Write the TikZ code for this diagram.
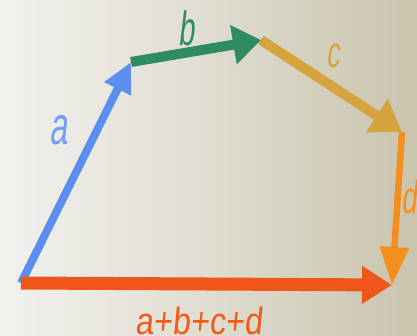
\documentclass[tikz,border=0pt]{standalone}
\usepackage{fontspec}
\newfontfamily\etichettafont[FakeStretch=0.6, FakeSlant=0.12]{Liberation Sans}
\newfontfamily\sommafont[FakeStretch=0.85, FakeSlant=0.1]{Liberation Sans}
\usetikzlibrary{arrows.meta}
\definecolor{blu}{HTML}{5B8EF0}
\definecolor{verde}{HTML}{2E8B62}
\definecolor{oro}{HTML}{D6A43E}
\definecolor{arancio}{HTML}{F48E1C}
\definecolor{rosso}{HTML}{F0561A}
\definecolor{chiaro}{HTML}{F2F1EE}
\definecolor{scuro}{HTML}{C9C4AD}

\begin{document}
\begin{tikzpicture}[
  x=1pt, y=1pt,
  punta/.style 2 args={-{Triangle[length=#1,width=#2]}},
  vettore/.style={draw=#1, line cap=butt, line join=miter},
  etichetta/.style={inner sep=0pt, font=\etichettafont\fontsize{#1}{#1}\selectfont}
]

% sfondo
\useasboundingbox (0,0) rectangle (417,335);
\clip (0,0) rectangle (417,335);
\shade[left color=chiaro, right color=scuro, middle color=chiaro!55!scuro] (0,0) rectangle (417,335);

% vertici
\coordinate (O) at (21,52);
\coordinate (A) at (131,273);
\coordinate (B) at (261,295);
\coordinate (C) at (402,203);
\coordinate (D) at (392,50);

% vettori
\draw[vettore=blu, line width=8pt, punta={30pt}{28pt}] (O) -- (A);
\draw[vettore=verde, line width=10pt, punta={28pt}{38pt}] (A) -- (B);
\draw[vettore=oro, line width=10pt, punta={30pt}{38pt}] (B) -- (C);
\draw[vettore=rosso, line width=13pt, punta={30pt}{36pt}] (O) -- (D);
\draw[vettore=arancio, line width=6.5pt, punta={38pt}{28pt}] (C) -- (D);

% etichette
\node[etichetta=54, text=blu!85!white] (la) at (59,205) {a};
\node[etichetta=48, text=verde] (lb) at (187,307) {b};
\node[etichetta=44, text=oro] (lc) at (333,279) {c};
\node[etichetta=46, text=arancio, anchor=west] (ld) at (401,138) {d};
\node[inner sep=0pt, anchor=base, text=rosso!90!orange,
      font=\sommafont\fontsize{38}{38}\selectfont] (ls) at (199,1) {a+b+c+d};

\end{tikzpicture}
\end{document}
